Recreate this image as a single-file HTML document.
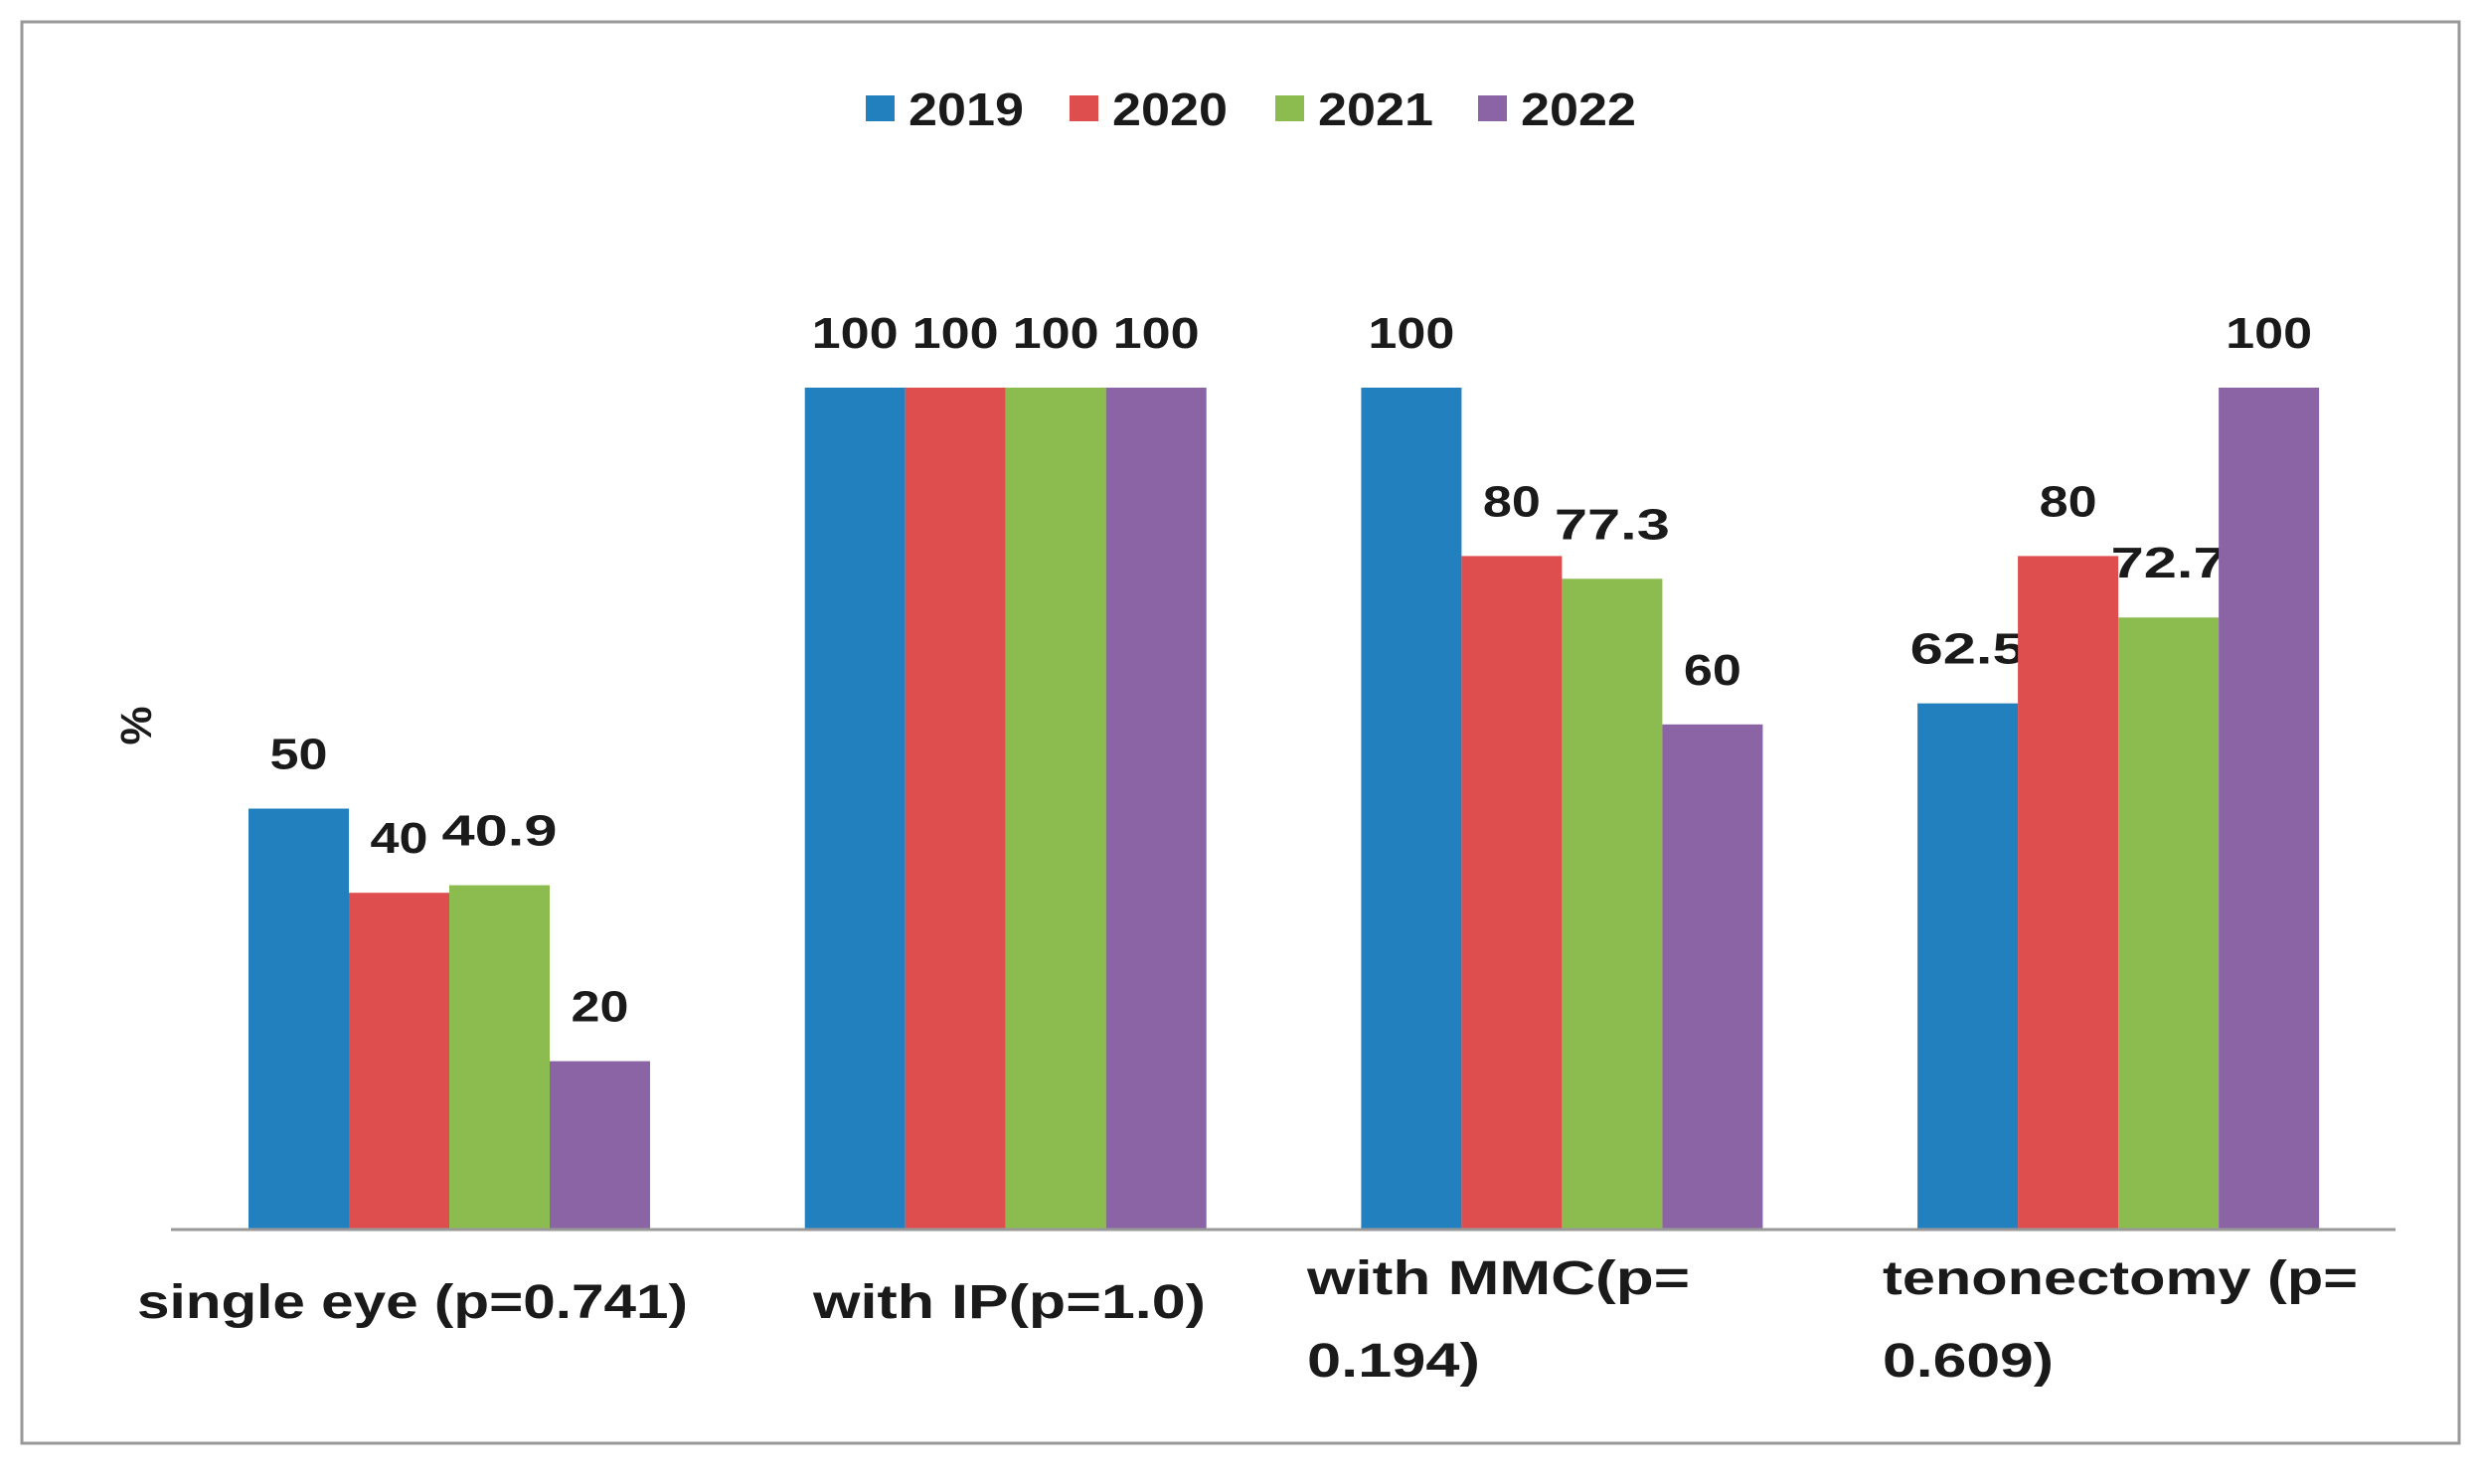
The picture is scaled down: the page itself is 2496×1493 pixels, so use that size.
<!DOCTYPE html>
<html><head><meta charset="utf-8"><style>html,body{margin:0;padding:0;background:#fff}svg{display:block}text{font-family:"Liberation Sans",sans-serif;font-weight:bold;fill:#1a1a1a}</style></head>
<body>
<svg id="chart" width="2496" height="1493" viewBox="0 0 2496 1493" xmlns="http://www.w3.org/2000/svg">
<rect x="22" y="22" width="2452" height="1430" fill="#fff" stroke="#999" stroke-width="3"/>
<g id="legend"></g>
<g id="bars"></g>
<line x1="172" y1="1237" x2="2410" y2="1237" stroke="#999" stroke-width="3"/>
<text transform="translate(122,730) rotate(90)" font-size="44" text-anchor="middle">%</text>
<g font-size="48">
<text x="138" y="1326" textLength="554" lengthAdjust="spacingAndGlyphs">single eye (p=0.741)</text>
<text x="818" y="1326" textLength="395" lengthAdjust="spacingAndGlyphs">with IP(p=1.0)</text>
<text x="1315" y="1302" textLength="385" lengthAdjust="spacingAndGlyphs">with MMC(p=</text>
<text x="1315" y="1385" textLength="174" lengthAdjust="spacingAndGlyphs">0.194)</text>
<text x="1894" y="1302" textLength="478" lengthAdjust="spacingAndGlyphs">tenonectomy (p=</text>
<text x="1894" y="1385" textLength="172" lengthAdjust="spacingAndGlyphs">0.609)</text>
</g>
</svg>
<script>
const categories = ["single eye", "with IP", "with MMC", "tenonectomy"];
const seriesNames = ["2019", "2020", "2021", "2022"];
const v2019 = [50, 100, 100, 62.5];
const v2020 = [40, 100, 80, 80];
const v2021 = [40.9, 100, 77.3, 72.7];
const v2022 = [20, 100, 60, 100];
const valueLabels = [["50","100","100","62.5"],["40","100","80","80"],["40.9","100","77.3","72.7"],["20","100","60","100"]];
const colors = ["#2280bf", "#de4e4e", "#8cbb50", "#8b64a6"];
const series = [v2019, v2020, v2021, v2022];
const NS = "http://www.w3.org/2000/svg";
const baseY = 1237, fullH = 847, groupStart = 250, groupStep = 559.7, barW = 101;
function y(v){ return baseY - v / 100 * fullH; }
function x(ci, si){ return groupStart + ci * groupStep + si * barW; }
const bars = document.getElementById('bars');
series.forEach((vals, si) => {
  vals.forEach((v, ci) => {
    const r = document.createElementNS(NS, 'rect');
    
    
    r.setAttribute('x', x(ci, si)); r.setAttribute('y', y(v));
    r.setAttribute('width', barW); r.setAttribute('height', baseY - y(v));
    r.setAttribute('fill', colors[si]);
    bars.appendChild(r);
    const t = document.createElementNS(NS, 'text');
    
    
    t.setAttribute('x', x(ci, si) + barW / 2); t.setAttribute('y', y(v) - 40);
    t.setAttribute('text-anchor', 'middle'); t.setAttribute('font-size', '44');
    const s = valueLabels[si][ci];
    t.setAttribute('textLength', s.length * 29); t.setAttribute('lengthAdjust', 'spacingAndGlyphs');
    t.textContent = s;
    bars.appendChild(t);
  });
});
const legend = document.getElementById('legend');
const legX = [871, 1076, 1283, 1487];
seriesNames.forEach((n, i) => {
  const r = document.createElementNS(NS, 'rect');
  
  
  r.setAttribute('x', legX[i]); r.setAttribute('y', 96); r.setAttribute('width', 29); r.setAttribute('height', 26);
  r.setAttribute('fill', colors[i]);
  legend.appendChild(r);
  const t = document.createElementNS(NS, 'text');
  
  
  t.setAttribute('x', legX[i] + 43); t.setAttribute('y', 126); t.setAttribute('font-size', '46');
  t.setAttribute('textLength', 116); t.setAttribute('lengthAdjust', 'spacingAndGlyphs');
  t.textContent = n;
  legend.appendChild(t);
});
</script>
</body></html>
